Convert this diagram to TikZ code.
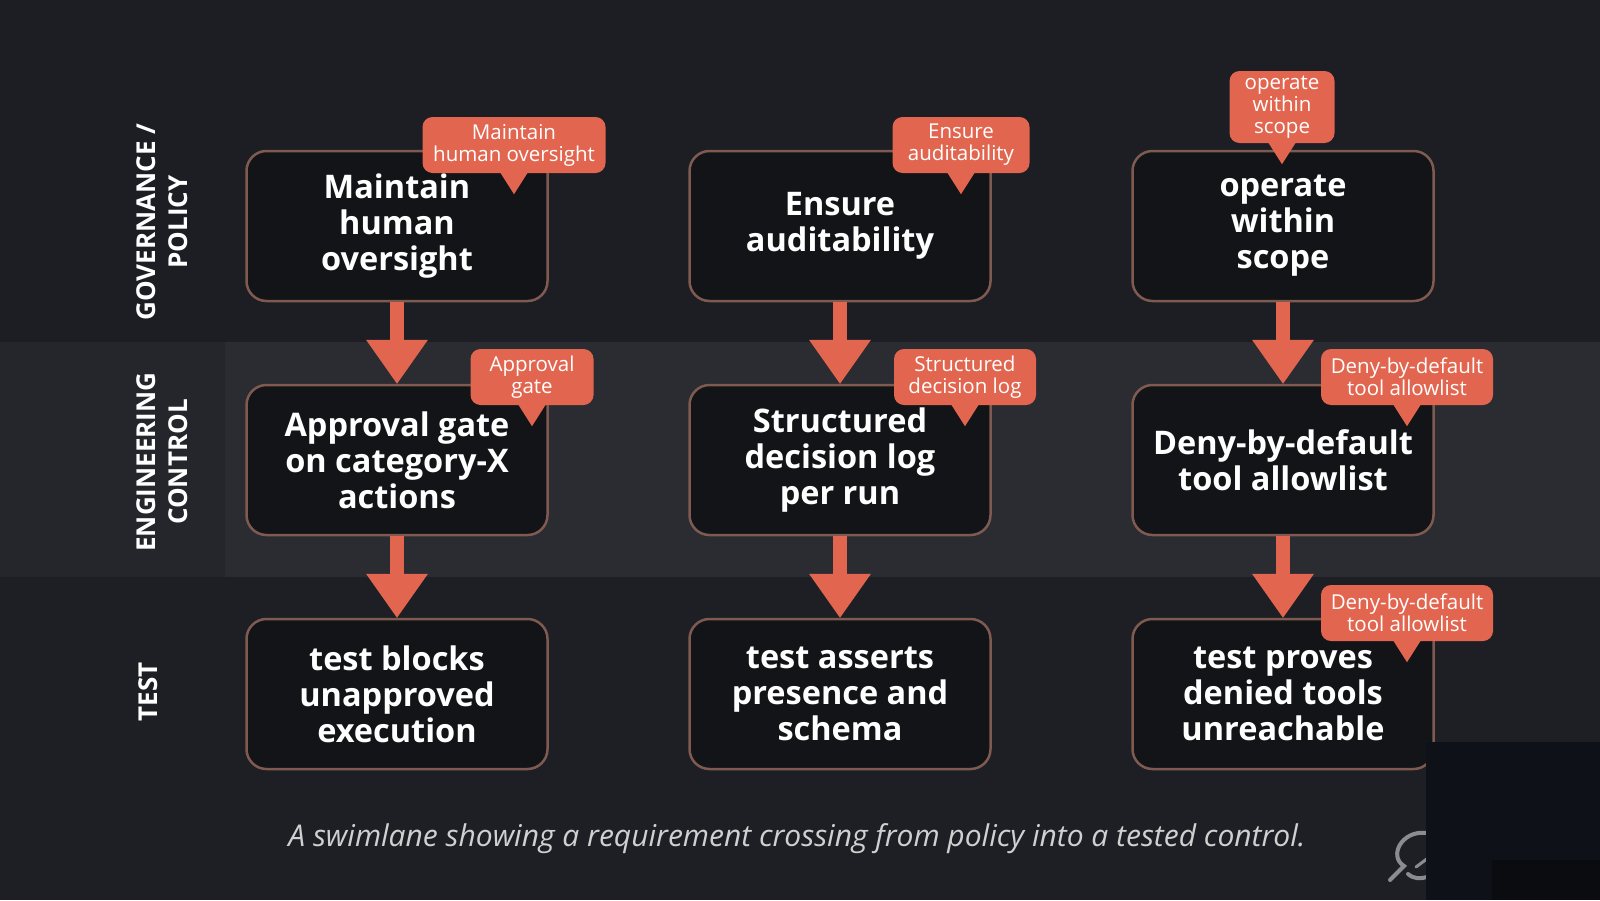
\documentclass[tikz,border=0pt]{standalone}
\usepackage{fontspec}
\setmainfont{Open Sans}
\usetikzlibrary{arrows.meta}
\definecolor{bgtop}{HTML}{1C1E24}
\definecolor{bgmid}{HTML}{2A2C32}
\definecolor{bgmidl}{HTML}{24262B}
\definecolor{bgbot}{HTML}{1D1F25}
\definecolor{boxfill}{HTML}{131417}
\definecolor{boxline}{HTML}{7E5A50}
\definecolor{coral}{HTML}{E2664F}
\definecolor{captxt}{HTML}{D0D0D0}
\definecolor{darkpatch}{HTML}{0E1118}
\definecolor{darkpatchb}{HTML}{0A0C10}
\definecolor{logogrey}{HTML}{8A8D90}
\tikzset{
 stepbox/.style={draw=boxline, line width=2.5pt, fill=boxfill, rounded corners=20pt,
   minimum width=301pt, minimum height=150pt, align=center, text=white,
   font=\fontsize{32.5}{36}\selectfont\bfseries, inner sep=0pt},
 tag/.style={fill=coral, rounded corners=10pt, align=center, text=white,
   font=\fontsize{20.5}{22}\selectfont, inner sep=0pt, minimum height=56pt},
 pointer/.style={fill=coral},
 flow/.style={draw=coral, line width=14pt, -{Triangle[width=62pt,length=44pt,line width=0pt]}},
 lane/.style={rotate=90, align=center, text=white, font=\fontsize{26}{32}\selectfont\bfseries},
}
\begin{document}
\begin{tikzpicture}[x=1pt,y=-1pt]
\useasboundingbox (0,0) rectangle (1600,900);
% lanes
\fill[bgtop] (0,0) rectangle (1600,342);
\fill[bgmid] (0,342) rectangle (1600,577);
\fill[bgmidl] (0,342) rectangle (225,577);
\fill[bgbot] (0,577) rectangle (1600,900);
% boxes
\node[stepbox] (g1) at (397,226) {Maintain\\human\\oversight};
\node[stepbox] (g2) at (840,226) {Ensure\\auditability};
\node[stepbox] (g3) at (1283,226) {operate\\within\\scope};
\node[stepbox] (e1) at (397,460) {Approval gate\\on category-X\\actions};
\node[stepbox] (e2) at (840,460) {Structured\\decision log\\per run};
\node[stepbox] (e3) at (1283,460) {Deny-by-default\\tool allowlist};
\node[stepbox] (t1) at (397,694) {test blocks\\unapproved\\execution};
\node[stepbox] (t2) at (840,694) {test asserts\\presence and\\schema};
\node[stepbox] (t3) at (1283,694) {test proves\\denied tools\\unreachable};
% arrows
\draw[flow] (g1.south) -- (e1.north);
\draw[flow] (g2.south) -- (e2.north);
\draw[flow] (g3.south) -- (e3.north);
\draw[flow] (e1.south) -- (t1.north);
\draw[flow] (e2.south) -- (t2.north);
\draw[flow] (e3.south) -- (t3.north);
% callouts
\node[tag, minimum width=183pt] (c1) at (514,145) {Maintain\\human oversight};
\node[tag, minimum width=137pt] (c2) at (961,145) {Ensure\\auditability};
\node[tag, minimum width=105pt, minimum height=72pt] (c3) at (1282,107) {operate\\within\\scope};
\node[tag, minimum width=123pt] (c4) at (532,377) {Approval\\gate};
\node[tag, minimum width=142pt] (c5) at (965,377) {Structured\\decision log};
\node[tag, minimum width=172pt] (c6) at (1407,377) {Deny-by-default\\tool allowlist};
\node[tag, minimum width=172pt] (c7) at (1407,613) {Deny-by-default\\tool allowlist};
\foreach \c in {c1,c2,c3,c4,c5,c6,c7}{
  \fill[pointer] ([xshift=-14pt,yshift=1pt]\c.south) -- ([xshift=14pt,yshift=1pt]\c.south) -- ([yshift=-21pt]\c.south) -- cycle;
}
% lane labels
\node[lane] (l1) at (162,222) {GOVERNANCE /\\POLICY};
\node[lane] (l2) at (162,462) {ENGINEERING\\CONTROL};
\node[lane] (l3) at (148,692) {TEST};
% caption
\node[text=captxt, font=\fontsize{30}{34}\selectfont\itshape] (cap) at (797,839)
  {A swimlane showing a requirement crossing from policy into a tested control.};
% logo fragment and dark patch
\draw[logogrey, line width=4pt, line cap=round] (1426,833) .. controls (1402,830) and (1388,856) .. (1404,866) -- (1390,880);
\draw[logogrey, line width=4pt, line cap=round] (1408,874) .. controls (1414,879) and (1420,879) .. (1427,877);
\draw[logogrey, line width=3pt, line cap=round] (1416,867) -- (1428,858);
\fill[darkpatch] (1426,742) rectangle (1600,900);
\fill[darkpatchb] (1492,860) rectangle (1600,900);
\end{tikzpicture}
\end{document}
